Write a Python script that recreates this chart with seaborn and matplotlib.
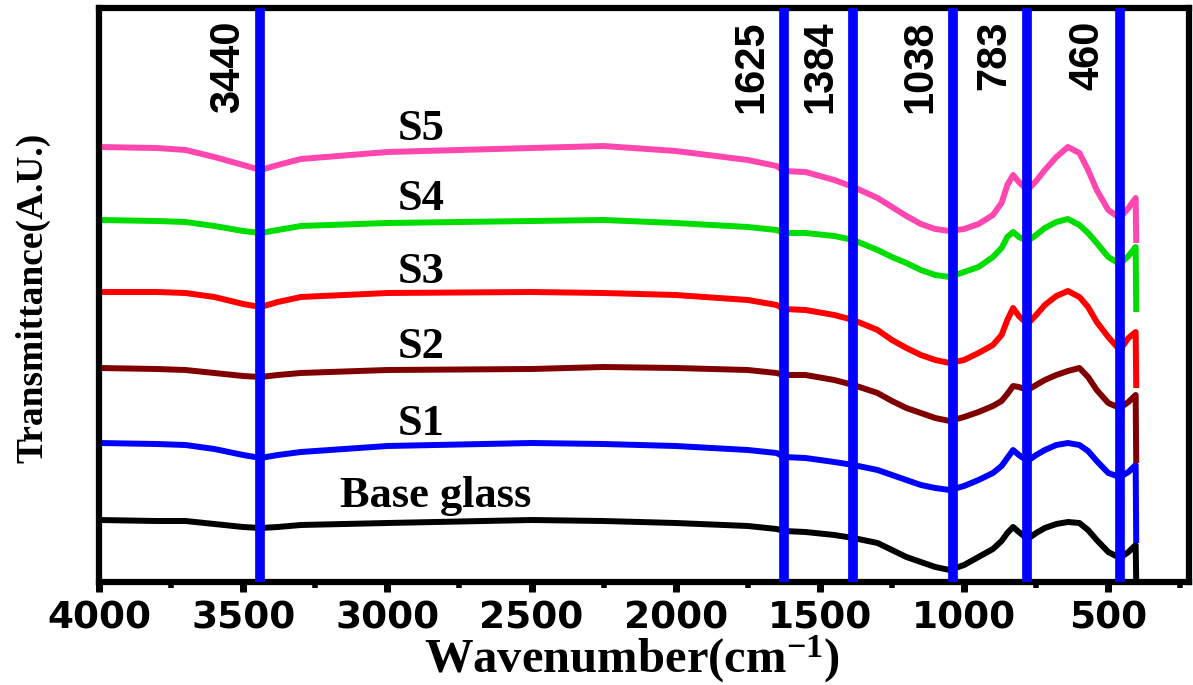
import matplotlib
matplotlib.use("Agg")
import matplotlib.pyplot as plt
from matplotlib.ticker import MultipleLocator
import seaborn as sns
import pandas as pd

# ---------------- data ----------------
wavenumber = [4000, 3800, 3700, 3600, 3500, 3440, 3380, 3300, 3000, 2500, 2250, 2000,
              1750, 1650, 1625, 1550, 1450, 1384, 1300, 1250, 1200, 1150, 1100, 1050,
              1000, 950, 900, 870, 850, 830, 810, 780, 750, 720, 680, 640, 600, 570,
              540, 500, 460, 430, 405, 403]

s5 = [435, 434, 432, 425, 417, 412, 417, 423, 430, 434, 436, 431, 422, 416, 411,
      410, 402, 395, 384, 375, 366, 358, 353, 351, 353, 358, 367, 379, 397, 407,
      400, 392, 401, 412, 425, 435, 429, 412, 392, 372, 364, 374, 384, 339]
s4 = [362, 361, 360, 356, 351, 349, 352, 356, 359, 361, 362, 359, 355, 352, 349,
      349, 346, 342, 332, 325, 319, 312, 307, 305, 310, 315, 325, 334, 345, 350,
      345, 341, 347, 354, 360, 363, 357, 349, 339, 325, 318, 326, 335, 270]
s3 = [290, 290, 289, 285, 278, 275, 280, 285, 289, 290, 289, 287, 282, 277, 273,
      272, 267, 262, 252, 242, 234, 227, 222, 219, 222, 229, 237, 247, 262, 274,
      266, 258, 267, 277, 286, 291, 285, 275, 260, 245, 232, 244, 250, 194]
s2 = [214, 213, 212, 209, 206, 205, 207, 209, 212, 213, 215, 214, 212, 209, 207,
      207, 202, 197, 189, 181, 174, 169, 164, 161, 165, 170, 176, 181, 188, 196,
      195, 192, 197, 202, 207, 211, 214, 205, 192, 179, 174, 180, 187, 119]
s1 = [139, 138, 137, 133, 127, 124, 127, 130, 136, 139, 138, 136, 132, 129, 125,
      124, 120, 117, 112, 107, 102, 97, 94, 92, 96, 102, 109, 116, 124, 132,
      127, 121, 127, 132, 137, 139, 137, 131, 121, 109, 105, 110, 117, 39]
base = [62, 61, 61, 58, 55, 54, 55, 57, 59, 62, 61, 59, 56, 53, 51,
        50, 47, 44, 39, 32, 25, 20, 15, 12, 17, 25, 33, 41, 49, 55,
        50, 43, 49, 54, 58, 60, 59, 52, 42, 30, 24, 30, 37, 0]

series_names = ["Base glass", "S1", "S2", "S3", "S4", "S5"]
series_colors = ["#000000", "#0000FF", "#800000", "#FF0000", "#00DD00", "#FF47AF"]
label_y = [75, 147, 224, 299, 372, 442]
label_x = [2831, 2883, 2883, 2883, 2883, 2883]

peak_positions = [3440, 1625, 1384, 1038, 783, 460]
peak_labels = ["3440", "1625", "1384", "1038", "783", "460"]

x_ticks = [4000, 3500, 3000, 2500, 2000, 1500, 1000, 500]

df = pd.DataFrame({"wavenumber": wavenumber, "Base glass": base, "S1": s1,
                   "S2": s2, "S3": s3, "S4": s4, "S5": s5})

# ---------------- style ----------------
sns.set_style("ticks")
plt.rcParams["font.family"] = ["DejaVu Sans"]
plt.rcParams["text.color"] = "black"
plt.rcParams["xtick.color"] = "black"
plt.rcParams["xtick.labelcolor"] = "black"
plt.rcParams["axes.labelcolor"] = "black"
plt.rcParams["mathtext.fontset"] = "custom"
plt.rcParams["mathtext.bf"] = "Liberation Serif:bold"
plt.rcParams["mathtext.rm"] = "Liberation Serif:bold"
plt.rcParams["mathtext.default"] = "bf"

fig = plt.figure(figsize=(11.93, 6.85), dpi=100)
ax = fig.add_axes([99 / 1193, 1 - 582 / 685, (1189 - 99) / 1193, (582 - 8) / 685])

for name, col in zip(series_names, series_colors):
    sns.lineplot(data=df, x="wavenumber", y=name, sort=False, estimator=None,
                 color=col, lw=4.3, ax=ax, zorder=2,
                 solid_joinstyle="round", solid_capstyle="butt")

for pos, lab in zip(peak_positions, peak_labels):
    ax.axvline(pos, color="#0000FF", lw=7, zorder=3)
    ax.annotate(lab, xy=(pos, 0.978), xycoords=("data", "axes fraction"),
                xytext=(-9, 0), textcoords="offset points", rotation=90,
                ha="right", va="top", fontsize=30, fontweight="bold",
                family=["Liberation Sans"], color="black")

for name, lx, ly in zip(series_names, label_x, label_y):
    ax.text(lx, ly, name, ha="center", va="baseline", fontsize=32,
            fontweight="bold", family=["Liberation Serif"], color="black")

ax.set_xlim(4000, 220)
ax.set_ylim(0, 574)
ax.set_xticks(x_ticks)
ax.set_xticklabels([str(t) for t in x_ticks])
ax.xaxis.set_minor_locator(MultipleLocator(250))
ax.set_yticks([])
ax.set_xlabel("")
ax.set_ylabel("")

ax.tick_params(axis="x", which="major", direction="out", length=7, width=5,
               pad=6, labelsize=27, colors="black")
ax.tick_params(axis="x", which="minor", direction="out", length=4, width=4,
               colors="black")
for lab in ax.get_xticklabels():
    lab.set_fontweight("bold")
    lab.set_family(["DejaVu Sans"])
    lab.set_color("black")

for sp in ax.spines.values():
    sp.set_linewidth(4.5)
    sp.set_color("black")
    sp.set_visible(True)

fig.text(632 / 1193, 1 - 659 / 685, r"Wavenumber(cm$^{-1}$)", fontsize=35,
         fontweight="bold", family=["Liberation Serif"], ha="center",
         va="center", color="black")
fig.text(33 / 1193, 1 - 298 / 685, "Transmittance(A.U.)", fontsize=27,
         fontweight="bold", family=["Liberation Serif"], ha="center",
         va="center", rotation=90, color="black")

fig.savefig("out.png", dpi=100)
